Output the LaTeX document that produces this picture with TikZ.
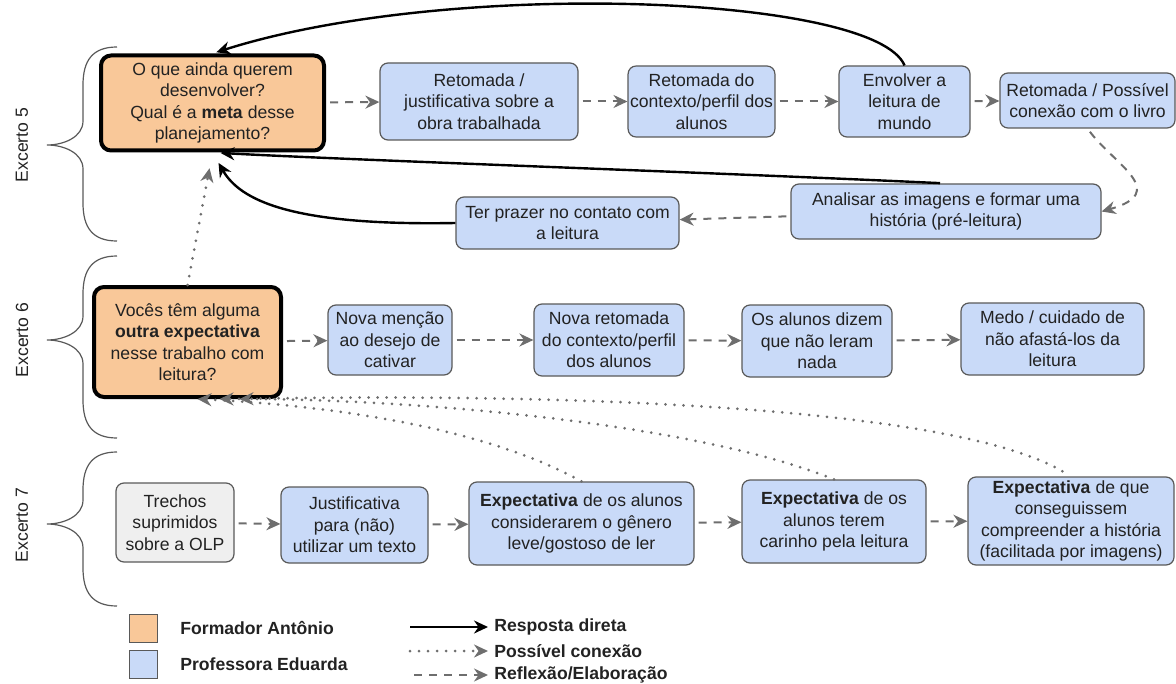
\documentclass[tikz,border=0pt]{standalone}
\usepackage{fontspec}
\setmainfont{Liberation Sans}
\usetikzlibrary{arrows.meta}
\definecolor{laranja}{RGB}{249,200,153}
\definecolor{azul}{RGB}{201,218,248}
\definecolor{cinza}{RGB}{239,239,239}
\definecolor{borda}{RGB}{89,89,89}
\definecolor{seta}{RGB}{110,110,110}
\definecolor{texto}{RGB}{34,34,34}
\newcommand{\chave}[3]{%
\draw[borda,line width=0.6pt] (117,#1) .. controls (92,#1) and (83,#1+14) .. (83,#1+38) -- (83,#2-24)
 .. controls (83,#2-8) and (64,#2) .. (47,#2) .. controls (64,#2) and (83,#2+8) .. (83,#2+24)
 -- (83,#3-38) .. controls (83,#3-14) and (92,#3) .. (117,#3);}
\begin{document}
\begin{tikzpicture}[x=0.5pt,y=-0.5pt,>={Stealth[length=7pt,width=6.5pt]},
every node/.style={font=\fontsize{8.8}{10.7}\selectfont,text=texto,align=center,inner sep=1pt},
caixa/.style={draw=borda,line width=0.6pt,fill=azul,rounded corners=4pt},
pergunta/.style={draw=black,line width=2pt,fill=laranja,rounded corners=5pt},
legenda/.style={anchor=west,font=\fontsize{8.8}{10.7}\selectfont\bfseries},
resp/.style={->,black,line width=1.2pt},
poss/.style={->,seta,line width=1.5pt,line cap=round,dash pattern=on 0pt off 4.5pt},
refl/.style={->,seta,line width=1pt,dash pattern=on 4pt off 3.5pt,shorten <=2pt}]
\useasboundingbox (0,0) rectangle (1176,684);
% chaves dos excertos
\chave{47}{145}{241}
\chave{256}{340}{438}
\chave{452}{524}{606}
\node[rotate=90] (e5) at (22,145) {Excerto 5};
\node[rotate=90] (e6) at (22,340) {Excerto 6};
\node[rotate=90] (e7) at (22,525) {Excerto 7};
% excerto 5
\node[pergunta,minimum width=111.5pt,minimum height=47.5pt] (A) at (212.5,103)
 {O que ainda querem\\desenvolver?\\Qual é a \textbf{meta} desse\\planejamento?};
\node[caixa,minimum width=99pt,minimum height=38.5pt] (B) at (479,101.5)
 {Retomada /\\justificativa sobre a\\obra trabalhada};
\node[caixa,minimum width=63.5pt,minimum height=35.5pt] (C) at (701.5,101.5)
 {Retomada do\\contexto/perfil dos\\alunos};
\node[caixa,minimum width=65.5pt,minimum height=35.5pt] (D) at (904.5,101.5)
 {Envolver a\\leitura de\\mundo};
\node[caixa,minimum width=87.5pt,minimum height=27.5pt] (E) at (1087.5,100.5)
 {Retomada / Possível\\conexão com o livro};
\node[caixa,minimum width=155pt,minimum height=27.5pt] (F) at (946,211.5)
 {Analisar as imagens e formar uma\\história (pré-leitura)};
\node[caixa,minimum width=111.5pt,minimum height=26pt] (G) at (567.5,223)
 {Ter prazer no contato com\\a leitura};
% excerto 6
\node[pergunta,minimum width=93.5pt,minimum height=55pt] (H) at (187.5,342)
 {Vocês têm alguma\\\textbf{outra expectativa}\\nesse trabalho com\\leitura?};
\node[caixa,minimum width=62pt,minimum height=35pt] (I) at (390,340)
 {Nova menção\\ao desejo de\\cativar};
\node[caixa,minimum width=75pt,minimum height=36pt] (J) at (609,340)
 {Nova retomada\\do contexto/perfil\\dos alunos};
\node[caixa,minimum width=75pt,minimum height=36pt] (K) at (817,341)
 {Os alunos dizem\\que não leram\\nada};
\node[caixa,minimum width=91.5pt,minimum height=36pt] (L) at (1052.5,339)
 {Medo / cuidado de\\não afastá-los da\\leitura};
% excerto 7
\node[caixa,fill=cinza,minimum width=59pt,minimum height=39.5pt] (M) at (175,522.5)
 {Trechos\\suprimidos\\sobre a OLP};
\node[caixa,minimum width=73.5pt,minimum height=38pt] (N) at (354.5,525)
 {Justificativa\\para (não)\\utilizar um texto};
\node[caixa,minimum width=112.5pt,minimum height=41.5pt] (O) at (581.5,523.5)
 {\textbf{Expectativa} de os alunos\\considerarem o gênero\\leve/gostoso de ler};
\node[caixa,minimum width=92pt,minimum height=41.5pt] (P) at (834,521.5)
 {\textbf{Expectativa} de os\\alunos terem\\carinho pela leitura};
\node[caixa,minimum width=103pt,minimum height=44pt] (Q) at (1071,521)
 {\textbf{Expectativa} de que\\conseguissem\\compreender a história\\(facilitada por imagens)};
% reflexao / elaboracao
\foreach \s/\t in {A/B,B/C,C/D,D/E,F/G,H/I,I/J,J/K,K/L,M/N,N/O,O/P,P/Q}{
\draw[refl] (\s) -- (\t);
}
\draw[refl] (E.south) .. controls (1115,165) and (1170,192) .. (F.east);
% respostas diretas
\draw[resp,shorten >=2pt] (D.north) .. controls (875,-5) and (450,-22) .. (A.north);
\draw[resp,shorten <=3pt,shorten >=4pt] (F.north) .. controls (700,172) and (350,160) .. (A.south);
\draw[resp,shorten >=6pt] (G.west) .. controls (290,226) and (240,200) .. (A.south);
% possiveis conexoes
\draw[poss,shorten >=8pt] (H.north) -- (A.south);
\draw[poss] (O.north) .. controls (480,425) and (320,405) .. ([xshift=5pt]H.south);
\draw[poss] (P.north) .. controls (700,425) and (420,398) .. ([xshift=16pt]H.south);
\draw[poss,shorten <=5pt] (Q.north) .. controls (950,405) and (550,393) .. ([xshift=26pt]H.south);
% legenda
\node[fill=laranja,draw=borda,line width=0.5pt,minimum size=14pt,inner sep=0pt] (cA) at (143,628) {};
\node[fill=azul,draw=borda,line width=0.5pt,minimum size=14pt,inner sep=0pt] (cB) at (143,664) {};
\node[legenda] (tA) at (178,628) {Formador Antônio};
\node[legenda] (tB) at (178,664) {Professora Eduarda};
\node[legenda] (t1) at (492,627) {Resposta direta};
\node[legenda] (t2) at (492,651) {Possível conexão};
\node[legenda] (t3) at (492,675) {Reflexão/Elaboração};
\coordinate (r1) at (410,627);
\coordinate (r2) at (410,651);
\coordinate (r3) at (410,675);
\draw[resp,shorten >=2pt] (r1) -- (t1.west);
\draw[poss,shorten >=2pt] (r2) -- (t2.west);
\draw[refl,shorten >=2pt] (r3) -- (t3.west);
\end{tikzpicture}
\end{document}
